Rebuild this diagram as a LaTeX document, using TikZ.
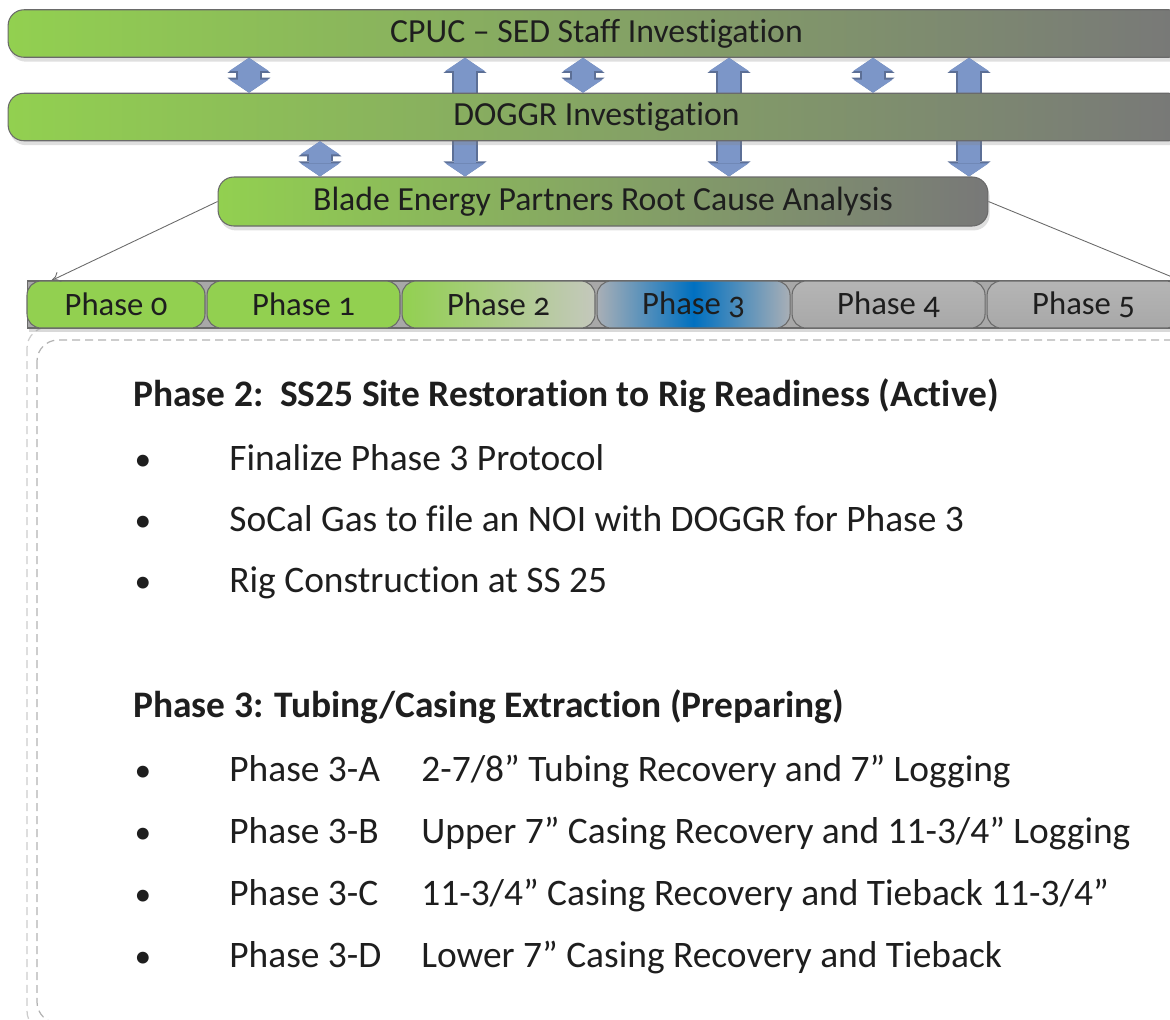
\documentclass[tikz,border=0pt]{standalone}
\usepackage{fontspec}
\setmainfont{Carlito}[Ligatures=NoCommon]
\newfontfamily\barfont{Carlito}[Numbers=OldStyle,Ligatures=NoCommon]
\usetikzlibrary{arrows.meta,shadows,positioning}
\definecolor{leafgreen}{HTML}{92D050}
\definecolor{slategrey}{HTML}{787878}
\definecolor{rimgrey}{HTML}{6A6A6A}
\definecolor{linkblue}{HTML}{7C96C8}
\definecolor{linkedge}{HTML}{5C6F96}
\definecolor{tabgrey}{HTML}{A8A8A8}
\definecolor{palegrey}{HTML}{C4C8BC}
\definecolor{dullgrey}{HTML}{A9AFB6}
\definecolor{tabblue}{HTML}{0070C0}
\definecolor{ink}{HTML}{1E1E1E}
\begin{document}
\begin{tikzpicture}
      [
      x=0.02cm, y=-0.02cm,
      bar/.style={rounded corners=9pt, draw=rimgrey, line width=0.6pt, left color=leafgreen, right color=slategrey, minimum height=0.95cm, inner sep=0pt, text=ink, font=\barfont\fontsize{19.2}{22}\selectfont, drop shadow={opacity=0.25, shadow xshift=1pt, shadow yshift=-2.5pt}},
      tab/.style={rounded corners=8pt, draw=rimgrey, line width=0.6pt, minimum width=3.86cm, minimum height=0.94cm, inner sep=0pt, text=ink, font=\barfont\fontsize{18.6}{21}\selectfont},
      linkrim/.style={line width=0.52cm, draw=linkedge, {Triangle[width=0.86cm,length=0.3cm,line width=0pt]}-{Triangle[width=0.86cm,length=0.3cm,line width=0pt]}},
      linkcore/.style={line width=0.44cm, draw=linkblue, {Triangle[width=0.78cm,length=0.26cm,line width=0pt]}-{Triangle[width=0.78cm,length=0.26cm,line width=0pt]}},
      ray/.style={draw=rimgrey, line width=0.5pt},
      framedash/.style={draw=#1, line width=0.7pt, rounded corners=12pt, dash pattern=on 0.16cm off 0.1cm},
      hd/.style={anchor=base west, inner sep=0pt, text=ink, font=\bfseries\fontsize{21.3}{25}\selectfont},
      txt/.style={anchor=base west, inner sep=0pt, text=ink, font=\fontsize{21.3}{25}\selectfont},
      dot/.style={anchor=base, inner sep=0pt, text=ink, font=\fontsize{19}{25}\selectfont}
      ]
      \clip (0,0) rectangle (1170,1019);
      % investigation bars
      \node (cpuc) at (596.5,33.5) [bar, minimum width=23.54cm] {CPUC – SED Staff Investigation};
      \node (blade) at (603,201.5) [bar, minimum width=15.4cm, minimum height=0.98cm] {Blade Energy Partners Root Cause Analysis};
      % long links pass behind the DOGGR bar
      \foreach \x in {465,729,969} {
        \coordinate (k) at (\x,0);
        \draw [linkrim] (cpuc.south -| k) to (blade.north -| k);
        \draw [linkcore] (cpuc.south -| k) to (blade.north -| k);
      }
      \node (doggr) at (596.5,117) [bar, minimum width=23.54cm] {DOGGR Investigation};
      \foreach \x in {249,583,873} {
        \coordinate (k) at (\x,0);
        \draw [linkrim] (cpuc.south -| k) to (doggr.north -| k);
        \draw [linkcore] (cpuc.south -| k) to (doggr.north -| k);
      }
      \coordinate (k) at (320,0);
      \draw [linkrim] (doggr.south -| k) to (blade.north -| k);
      \draw [linkcore] (doggr.south -| k) to (blade.north -| k);
      % detail frame
      \draw [framedash=black!20] (27,327) rectangle (1200,1032);
      \draw [framedash=black!30] (37,340) rectangle (1200,1023);
      % phase tabs
      \node (strip) at (606,304.5) [rectangle, draw=rimgrey, fill=tabgrey, line width=0.6pt, minimum width=23.16cm, minimum height=0.94cm, inner sep=0pt, drop shadow={opacity=0.3, shadow xshift=1pt, shadow yshift=-2.5pt}] {};
      \node (t0) at (116,304.5) [tab, fill=leafgreen, minimum width=3.56cm] {Phase 0};
      \node (t1) [tab, fill=leafgreen, right=0.02cm of t0] {Phase 1};
      \node (t2) [tab, left color=leafgreen, right color=palegrey, right=0.02cm of t1] {Phase 2};
      \node (t3) [tab, left color=dullgrey, right color=dullgrey, middle color=tabblue, right=0.02cm of t2] {Phase 3};
      \node (t4) [tab, top color=tabgrey!85, bottom color=tabgrey, right=0.02cm of t3] {Phase 4};
      \node (t5) [tab, top color=tabgrey!85, bottom color=tabgrey, right=0.02cm of t4] {Phase 5};
      \draw [ray, -{To[length=5pt,width=6pt]}] (blade.west) to ([xshift=0.5cm]t0.north west);
      \draw [ray] (blade.east) to (t5.north east);
      % phase 2 details
      \node (head2) at (133,406) [hd] {Phase 2:~~SS25 Site Restoration to Rig Readiness (Active)};
      \node (b21) at (143,470) [dot] {•};
      \node (i21) at (229,470) [txt] {Finalize Phase 3 Protocol};
      \node (b22) at (143,531) [dot] {•};
      \node (i22) at (229,531) [txt] {SoCal Gas to file an NOI with DOGGR for Phase 3};
      \node (b23) at (143,592) [dot] {•};
      \node (i23) at (229,592) [txt] {Rig Construction at SS 25};
      % phase 3 details
      \node (head3) at (133,717) [hd] {Phase 3: Tubing/Casing Extraction (Preparing)};
      \node (b3a) at (143,781) [dot] {•};
      \node (p3a) at (229,781) [txt] {Phase 3-A};
      \node (i3a) at (421,781) [txt] {2-7/8” Tubing Recovery and 7” Logging};
      \node (b3b) at (143,843) [dot] {•};
      \node (p3b) at (229,843) [txt] {Phase 3-B};
      \node (i3b) at (421,843) [txt] {Upper 7” Casing Recovery and 11-3/4” Logging};
      \node (b3c) at (143,905) [dot] {•};
      \node (p3c) at (229,905) [txt] {Phase 3-C};
      \node (i3c) at (421,905) [txt] {11-3/4” Casing Recovery and Tieback 11-3/4”};
      \node (b3d) at (143,967) [dot] {•};
      \node (p3d) at (229,967) [txt] {Phase 3-D};
      \node (i3d) at (421,967) [txt] {Lower 7” Casing Recovery and Tieback};
    \end{tikzpicture}
\end{document}
